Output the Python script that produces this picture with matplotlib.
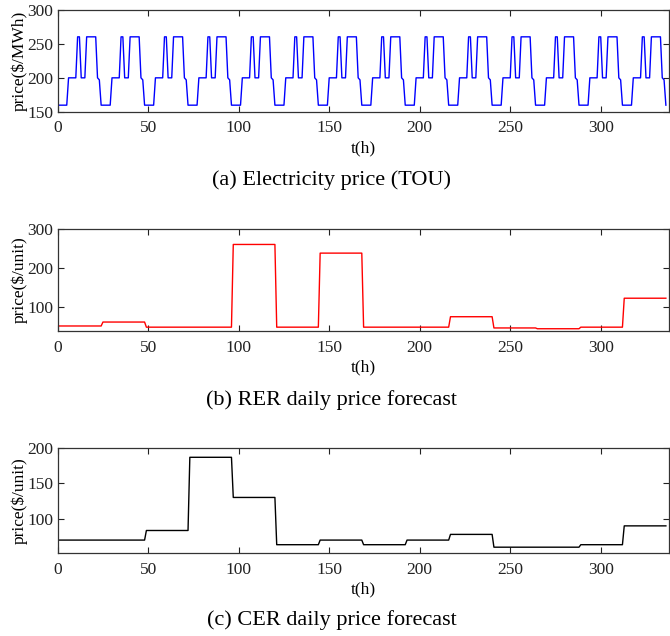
import numpy as np
import matplotlib
matplotlib.use('Agg')
import matplotlib.pyplot as plt

plt.rcParams['font.family'] = ['Liberation Serif', 'DejaVu Serif']
plt.rcParams['mathtext.fontset'] = 'stix'

# hourly TOU tariff for one day ($/MWh), hours 1..24
tou_day = [160, 160, 160, 160, 160, 200, 200, 200, 200, 200, 260, 260,
           200, 200, 200, 260, 260, 260, 260, 260, 260, 200, 197, 160]
n_days = 14

# daily price forecasts ($/unit), one value per day
rer_daily = [53, 63, 50, 50, 260, 50, 238, 50, 50, 76.5, 48, 46, 50, 123.5]
cer_daily = [70, 70, 83.5, 186.5, 130, 63.5, 70, 63.5, 70, 78, 60, 60, 63.5, 90]

t = np.arange(1, 24 * n_days + 1)
tou = np.tile(tou_day, n_days)
rer = np.repeat(rer_daily, 24)
cer = np.repeat(cer_daily, 24)

fig = plt.figure(figsize=(6.70, 6.36), dpi=100)

W, H = 670.0, 636.0
left, right = 57.7, 669.5
# (top px, bottom px) of each axes box
boxes = [(9.5, 112.0), (228.7, 331.3), (447.7, 553.3)]
captions = ['(a) Electricity price (TOU)',
            '(b) RER daily price forecast',
            '(c) CER daily price forecast']
caption_y = [180.0, 400.0, 620.0]
series = [(tou, 'b', 'price($/MWh)', (150, 300), [150, 200, 250, 300]),
          (rer, 'r', 'price($/unit)', (39.5, 300), [100, 200, 300]),
          (cer, 'k', 'price($/unit)', (51.4, 200), [100, 150, 200])]

for (top, bot), (y, col, ylab, ylim, yt), cap, cy in zip(boxes, series, captions, caption_y):
    ax = fig.add_axes([left / W, 1 - bot / H, (right - left) / W, (bot - top) / H])
    ax.plot(t, y, color=col, linewidth=1.0)
    ax.set_xlim(0, 338)
    ax.set_ylim(*ylim)
    ax.set_xticks([0, 50, 100, 150, 200, 250, 300])
    ax.set_yticks(yt)
    ax.tick_params(direction='in', top=True, right=True, length=4,
                   width=0.8, labelsize=12.5, colors='#222222')
    ax.tick_params(axis='x', pad=6)
    ax.tick_params(axis='y', pad=3)
    for s in ax.spines.values():
        s.set_linewidth(0.9)
        s.set_color('#333333')
    ax.set_xlabel('t(h)', fontsize=12.5, labelpad=3)
    ax.set_ylabel(ylab, fontsize=12.5, labelpad=0)
    fig.text(332 / W, 1 - cy / H, cap, ha='center', va='center', fontsize=16)

fig.savefig('out.png', dpi=100)
